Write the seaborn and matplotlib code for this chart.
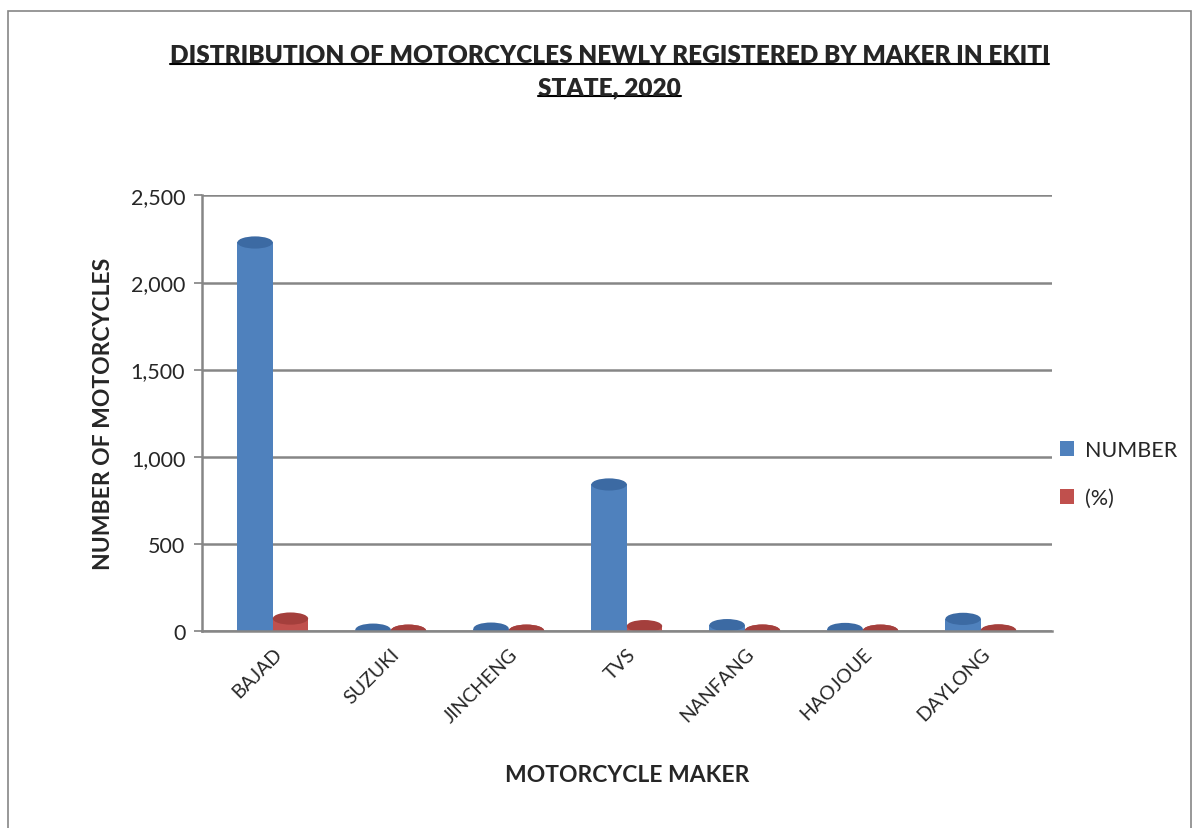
import pandas as pd
import matplotlib.pyplot as plt
import seaborn as sns
from matplotlib.ticker import FuncFormatter
from matplotlib.patches import Rectangle, Ellipse

# values
makers = ["BAJAD", "SUZUKI", "JINCHENG", "TVS", "NANFANG", "HAOJOUE", "DAYLONG"]
number = [2230, 6, 12, 840, 32, 10, 68]
percent = [69.8, 0.2, 0.4, 26.3, 1.0, 0.3, 2.1]
series = ["NUMBER", "(%)"]
colors = ["#4F81BD", "#C0504D"]
top_colors = ["#3C6AA3", "#A43F3C"]
y_ticks = [0, 500, 1000, 1500, 2000, 2500]

df = pd.DataFrame({
    "maker": makers * 2,
    "value": number + percent,
    "series": [series[0]] * len(makers) + [series[1]] * len(makers),
})

sns.set_theme(style="white")
plt.rcParams["font.family"] = ["Lato", "DejaVu Sans"]

fig = plt.figure(figsize=(11.95, 8.29), dpi=100)
ax = fig.add_axes([0.169, 0.238, 0.711, 0.525])

sns.barplot(data=df, x="maker", y="value", hue="series", order=makers,
            hue_order=series, palette=colors, width=0.6, ax=ax,
            saturation=1, edgecolor="none")

# cylinder caps on top of each bar (taken from the bars seaborn drew)
bars = [p for p in ax.patches if isinstance(p, Rectangle)][:2 * len(makers)]
cap_h = 70
for i, bar in enumerate(bars):
    k = i // len(makers)
    cx = bar.get_x() + bar.get_width() / 2
    w = bar.get_width()
    h = bar.get_height()
    ax.add_patch(Ellipse((cx, 0), w, cap_h, facecolor=colors[k], edgecolor="none",
                         zorder=bar.get_zorder()))
    ax.add_patch(Ellipse((cx, h), w, cap_h, facecolor=top_colors[k], edgecolor="none",
                         zorder=bar.get_zorder() + 0.1))

ax.set_xlim(-0.6, 6.6)
ax.set_ylim(0, 2500)
ax.set_yticks(y_ticks)
ax.yaxis.set_major_formatter(FuncFormatter(lambda v, p: f"{int(v):,}"))
ax.tick_params(axis="y", labelsize=15.5, length=6, color="#868686", left=True, pad=6)
ax.tick_params(axis="x", labelsize=14, length=0, pad=10)
plt.setp(ax.get_xticklabels(), rotation=45, ha="right", rotation_mode="anchor")

ax.grid(axis="y", color="#868686", linewidth=1.8)
ax.set_axisbelow(True)
for side in ["top", "right"]:
    ax.spines[side].set_visible(False)
for side in ["left", "bottom"]:
    ax.spines[side].set_color("#868686")
    ax.spines[side].set_linewidth(1.8)

ax.set_xlabel("MOTORCYCLE MAKER", fontsize=16.5, fontweight="bold", labelpad=28)
ax.set_ylabel("NUMBER OF MOTORCYCLES", fontsize=16.5, fontweight="bold", labelpad=12)

leg = ax.legend(loc="center left", bbox_to_anchor=(1.01, 0.36), frameon=False,
                fontsize=15.5, handlelength=0.65, handleheight=0.65,
                labelspacing=1.3, handletextpad=0.5, borderpad=0, borderaxespad=0)

# title with underline
title_font = dict(ha="center", va="center", fontsize=17.6, fontweight="heavy",
                  family=["Lato", "DejaVu Sans"])
t1 = fig.text(0.51, 0.932, "DISTRIBUTION OF MOTORCYCLES NEWLY REGISTERED BY MAKER IN EKITI",
              **title_font)
t2 = fig.text(0.51, 0.893, "STATE, 2020", **title_font)
fig.canvas.draw()
inv = fig.transFigure.inverted()
for t in (t1, t2):
    bb = t.get_window_extent().transformed(inv)
    fig.add_artist(plt.Line2D([bb.x0, bb.x1], [bb.y0 + 0.003, bb.y0 + 0.003],
                              color="black", linewidth=1.5, transform=fig.transFigure))

# outer chart border
fig.add_artist(Rectangle((0.007, -0.01), 0.99, 0.996, transform=fig.transFigure,
                         fill=False, edgecolor="#868686", linewidth=1.2))

fig.savefig("out.png", dpi=100)
